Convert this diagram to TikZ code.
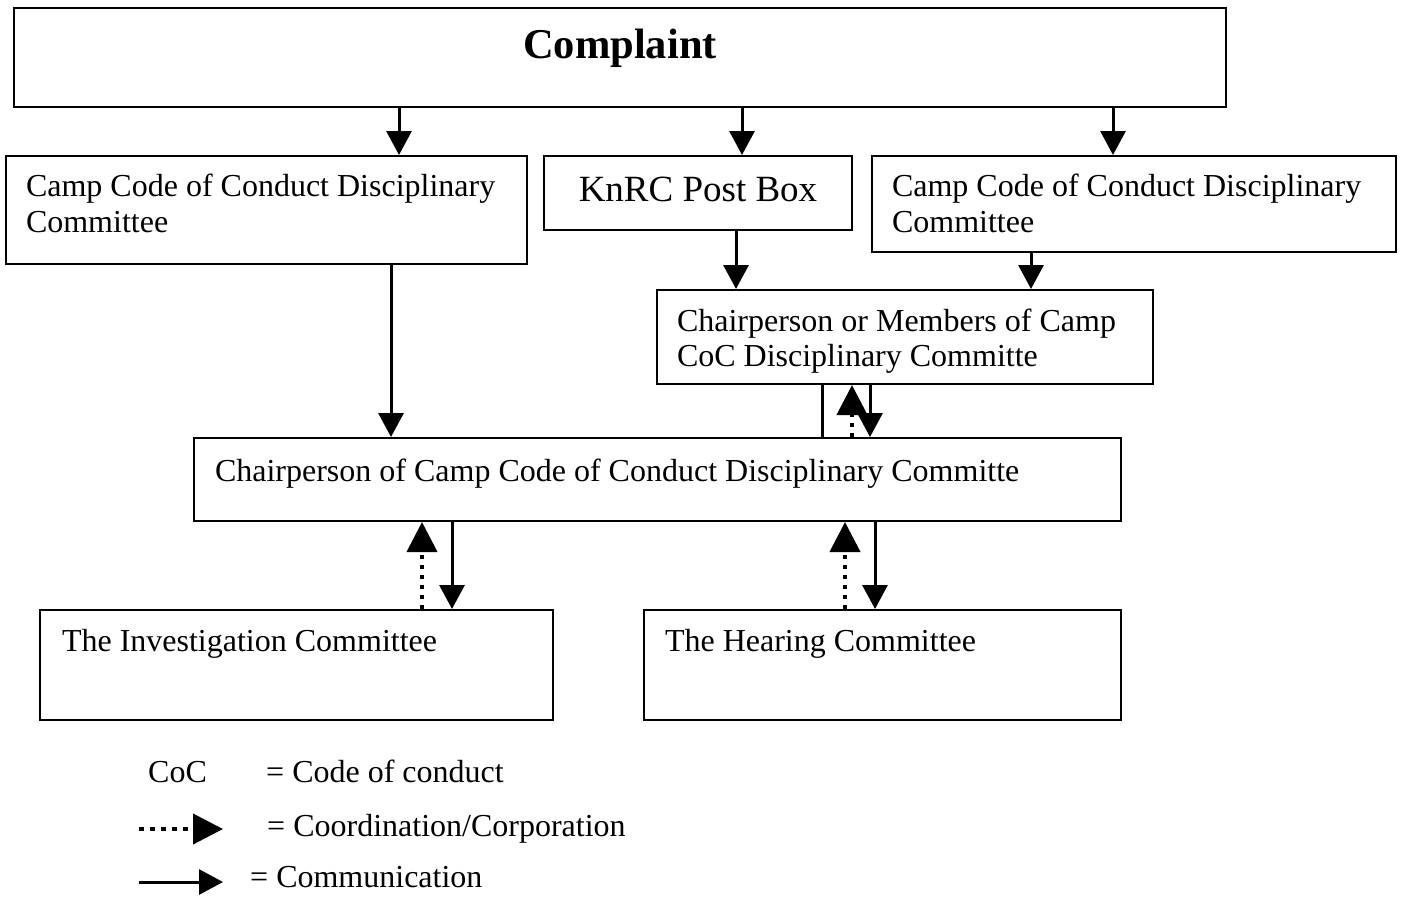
\documentclass[tikz,border=0pt]{standalone}
\usepackage{fontspec}
\setmainfont{Liberation Serif}
\usetikzlibrary{arrows.meta}
\tikzset{
	box/.style={draw, line width=2pt, inner xsep=20pt, inner ysep=0pt, anchor=north west, align=flush left},
	comm/.style={line width=3pt, -{Triangle[length=24pt,width=25pt]}},
	coord/.style={line width=4pt, dash pattern=on 4pt off 6pt, -{Triangle[length=30pt,width=30pt]}},
	legtext/.style={inner sep=0pt, anchor=base west}
}
\begin{document}
\begin{tikzpicture}[x=1pt, y=-1pt, font=\fontsize{32}{36.5}\selectfont, line join=miter]
	\useasboundingbox (0,0) rectangle (1402,897);
	% Boxes
	\node[box, text width=1172pt, align=flush center, text height=50pt, text depth=49pt, font=\fontsize{42.5}{48}\selectfont\bfseries] (cmp) at (13,7) {Complaint};
	\node[box, text width=481pt, text height=40pt, text depth=68pt] (ccdA) at (5,155) {Camp Code of Conduct Disciplinary\\Committee};
	\node[box, text width=268pt, align=flush center, text height=45pt, text depth=29pt, font=\fontsize{37}{42}\selectfont] (post) at (543,155) {KnRC Post Box};
	\node[box, text width=484pt, text height=40pt, text depth=56pt] (ccdB) at (871,155) {Camp Code of Conduct Disciplinary\\Committee};
	\node[box, text width=456pt, text height=41pt, text depth=53pt, font=\fontsize{32}{35}\selectfont] (memb) at (656,289) {Chairperson or Members of Camp\\CoC Disciplinary Committe};
	\node[box, inner xsep=21pt, text width=885pt, text height=43pt, text depth=40pt] (chair) at (193,437) {Chairperson of Camp Code of Conduct Disciplinary Committe};
	\node[box, inner xsep=22pt, text width=469pt, text height=41pt, text depth=69pt] (inv) at (39,609) {The Investigation Committee};
	\node[box, inner xsep=21pt, text width=435pt, text height=41pt, text depth=69pt] (hear) at (643,609) {The Hearing Committee};
	% Columns of the arrows
	\foreach \n/\x in {a/399, b/742, c/1113, d/391, e/736, f/1031, g/822, h/852, i/870, j/422, k/452, l/845, m/875}
		\coordinate (col\n) at (\x,0);
	\draw[comm] (cmp.south -| cola) -- (ccdA.north -| cola);
	\draw[comm] (cmp.south -| colb) -- (post.north -| colb);
	\draw[comm] (cmp.south -| colc) -- (ccdB.north -| colc);
	\draw[comm] (ccdA.south -| cold) -- (chair.north -| cold);
	\draw[comm] (post.south -| cole) -- (memb.north -| cole);
	\draw[comm] (ccdB.south -| colf) -- (memb.north -| colf);
	\draw[line width=3pt] (memb.south -| colg) -- (chair.north -| colg);
	\draw[coord] (chair.north -| colh) -- (memb.south -| colh);
	\draw[comm] (memb.south -| coli) -- (chair.north -| coli);
	\draw[coord] (inv.north -| colj) -- (chair.south -| colj);
	\draw[comm] (chair.south -| colk) -- (inv.north -| colk);
	\draw[coord] (hear.north -| coll) -- (chair.south -| coll);
	\draw[comm] (chair.south -| colm) -- (hear.north -| colm);
	% Legend
	\node[legtext] (coc) at (148,782) {CoC};
	\node[legtext] (cocdef) at (266,782) {= Code of conduct};
	\coordinate (ldA) at (139,829);
	\coordinate (ldB) at (223,829);
	\draw[coord, dash pattern=on 5pt off 6pt] (ldA) -- (ldB);
	\node[legtext] (corp) at (267,836) {= Coordination/Corporation};
	\coordinate (lsA) at (139,882);
	\coordinate (lsB) at (223,882);
	\draw[comm] (lsA) -- (lsB);
	\node[legtext] (commu) at (250,887) {= Communication};
\end{tikzpicture}
\end{document}
